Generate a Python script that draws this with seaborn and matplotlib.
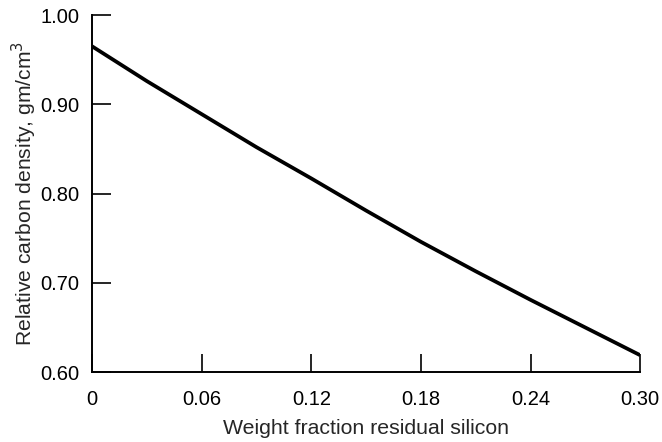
import numpy as np
import pandas as pd
import matplotlib
matplotlib.use("Agg")
import matplotlib.pyplot as plt
import seaborn as sns

# values
silicon_fraction = [0.00, 0.03, 0.06, 0.09, 0.12, 0.15, 0.18, 0.21, 0.24, 0.27, 0.30]
carbon_density = [0.965, 0.926, 0.889, 0.852, 0.817, 0.781, 0.746, 0.713, 0.681, 0.650, 0.619]

x_ticks = [0, 0.06, 0.12, 0.18, 0.24, 0.30]
x_tick_labels = ["0", "0.06", "0.12", "0.18", "0.24", "0.30"]
y_ticks = [0.60, 0.70, 0.80, 0.90, 1.00]
y_tick_labels = ["0.60", "0.70", "0.80", "0.90", "1.00"]

sns.set_style("ticks")
plt.rcParams["font.family"] = ["Liberation Sans", "DejaVu Sans"]

df = pd.DataFrame({"silicon": silicon_fraction, "density": carbon_density})

fig = plt.figure(figsize=(6.62, 4.42), dpi=100)
ax = fig.add_axes([0.139, 0.158, 0.828, 0.808])

sns.lineplot(data=df, x="silicon", y="density", ax=ax, color="black",
             linewidth=2.7, solid_capstyle="butt")

ax.set_xlim(0, 0.30)
ax.set_ylim(0.60, 1.00)
ax.set_xticks(x_ticks)
ax.set_xticklabels(x_tick_labels)
ax.set_yticks(y_ticks)
ax.set_yticklabels(y_tick_labels)

for side in ["top", "right"]:
    ax.spines[side].set_visible(False)
for side in ["left", "bottom"]:
    ax.spines[side].set_linewidth(1.4)
    ax.spines[side].set_color("black")

ax.tick_params(axis="x", direction="in", length=13, width=1.2, pad=13,
               labelsize=14.5, colors="black")
ax.tick_params(axis="y", direction="in", length=14, width=1.2, pad=9,
               labelsize=14.5, colors="black")

ax.set_xlabel("Weight fraction residual silicon", fontsize=15.3, labelpad=7)
ax.set_ylabel("Relative carbon density, gm/cm$^3$", fontsize=15.2, labelpad=1)

fig.savefig("out.png", dpi=100)
